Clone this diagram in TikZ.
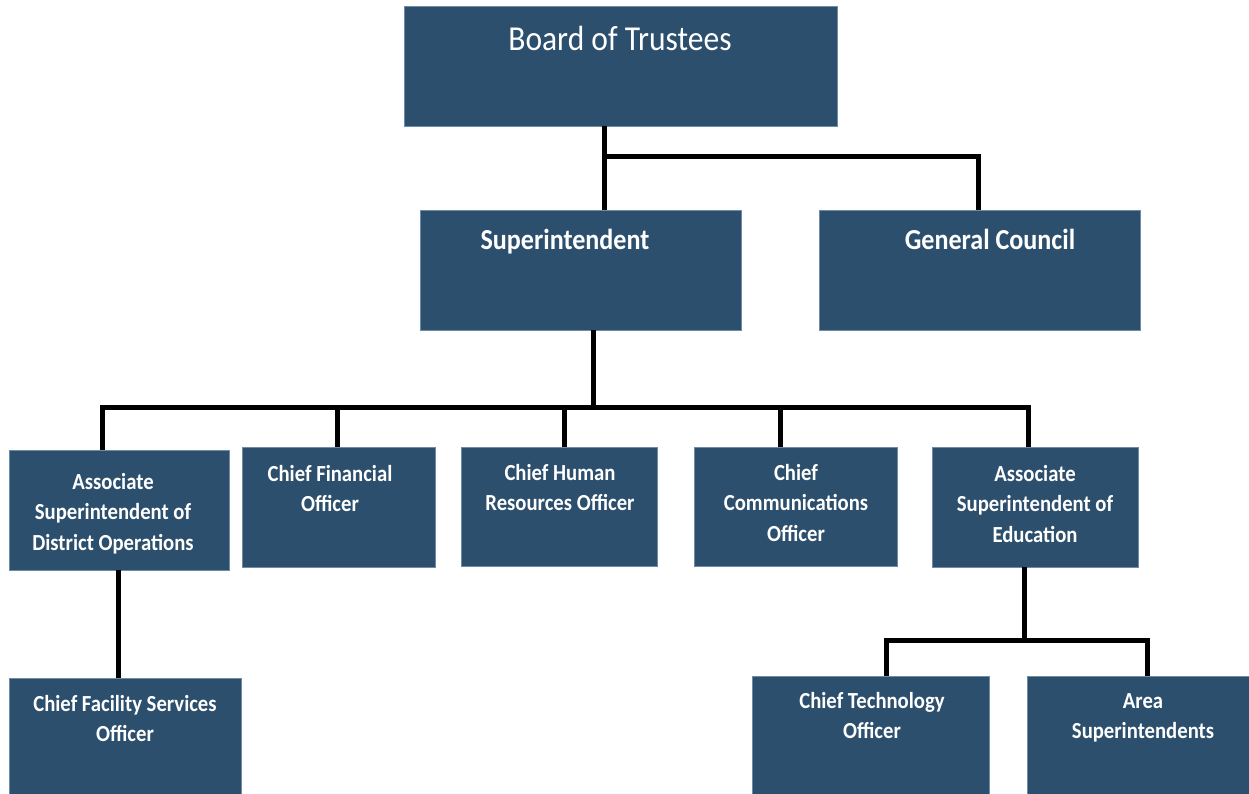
\documentclass[tikz,border=0pt]{standalone}
\usepackage{fontspec}
\setmainfont{Carlito}[FakeStretch=0.9]
\definecolor{boxblue}{RGB}{44,79,109}
\definecolor{boxedge}{RGB}{110,140,168}
\begin{document}
\begin{tikzpicture}[x=1pt,y=-1pt,
  box/.style={draw=boxedge,line width=0.6pt,fill=boxblue,inner sep=0pt},
  conn/.style={line width=5pt,black,line join=miter},
  big/.style={text=white,inner sep=0pt,anchor=base,font=\fontsize{35}{40}\selectfont},
  mid/.style={text=white,inner sep=0pt,anchor=base,font=\bfseries\fontsize{29}{34}\selectfont},
  small/.style={text=white,inner sep=0pt,anchor=north,align=center,font=\bfseries\fontsize{23}{30.5}\selectfont}]
\useasboundingbox[fill=white] (0,0) rectangle (1249,794);
% boxes
\node[box,minimum width=433,minimum height=120] (board) at (620.5,66) {};
\node[box,minimum width=321,minimum height=120] (sup) at (580.5,270) {};
\node[box,minimum width=321,minimum height=120] (gc) at (979.5,270) {};
\node[box,minimum width=220,minimum height=120] (ops) at (119,510) {};
\node[box,minimum width=193,minimum height=120] (cfo) at (338.5,507) {};
\node[box,minimum width=196,minimum height=119] (chro) at (559,506.5) {};
\node[box,minimum width=203,minimum height=119] (cco) at (795.5,506.5) {};
\node[box,minimum width=206,minimum height=120] (edu) at (1035,507) {};
\node[box,minimum width=232,minimum height=120] (fac) at (125,738) {};
\node[box,minimum width=237,minimum height=122] (cto) at (870.5,737) {};
\node[box,minimum width=224,minimum height=122] (area) at (1139,737) {};
% texts
\node[big] (tboard) at (620,51) {Board of Trustees};
\node[mid] (tsup) at (565,250) {Superintendent};
\node[mid] (tgc) at (990,250) {General Council};
\node[small] (tops) at (113,473) {Associate\\Superintendent of\\District Operations};
\node[small] (tcfo) at (330,465) {Chief Financial\\Officer};
\node[small] (tchro) at (560,464) {Chief Human\\Resources Officer};
\node[small] (tcco) at (796,464) {Chief\\Communications\\Officer};
\node[small] (tedu) at (1035,465) {Associate\\Superintendent of\\Education};
\node[small] (tfac) at (125,695) {Chief Facility Services\\Officer};
\node[small] (tcto) at (872,692) {Chief Technology\\Officer};
\node[small] (tarea) at (1143,693) {Area\\Superintendents};
% connectors
\coordinate (j1) at (604,157);
\coordinate (j2) at (593,407);
\coordinate (j3) at (1024,640);
\draw[conn] (604,0 |- board.south) -- (604,0 |- sup.north);
\draw[conn] (j1) -| (978,0 |- gc.north);
\draw[conn] (593,0 |- sup.south) -- (j2);
\draw[conn] (102,0 |- ops.north) |- (1028,407) -- (1028,0 |- edu.north);
\draw[conn] (337,407) -- (337,0 |- cfo.north);
\draw[conn] (564,407) -- (564,0 |- chro.north);
\draw[conn] (780,407) -- (780,0 |- cco.north);
\draw[conn] (118,0 |- ops.south) -- (118,0 |- fac.north);
\draw[conn] (1024,0 |- edu.south) -- (j3);
\draw[conn] (886,0 |- cto.north) |- (1147,640) -- (1147,0 |- area.north);
\end{tikzpicture}
\end{document}
